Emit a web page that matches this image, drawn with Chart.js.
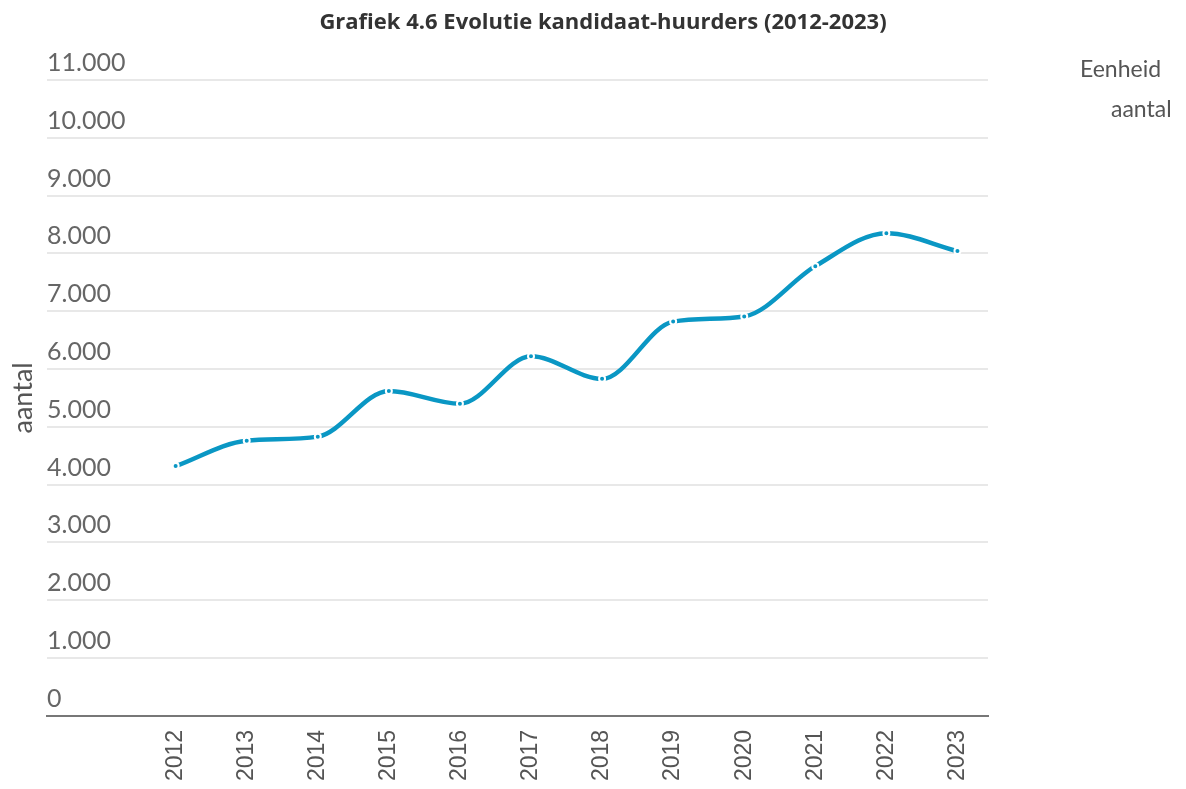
<!DOCTYPE html>
<html lang="nl">
<head>
<meta charset="utf-8">
<title>Evolutie kandidaat-huurders</title>
<script src="https://cdn.jsdelivr.net/npm/chart.js@4/dist/chart.umd.min.js"></script>
<style>
  html, body { margin: 0; padding: 0; background: #ffffff; }
  #wrap { width: 1186px; height: 789px; }
</style>
</head>
<body>
<div id="wrap"><canvas id="chart" width="1186" height="789"></canvas></div>
<script>
// Jaren en aantal kandidaat-huurders
const years = [2012, 2013, 2014, 2015, 2016, 2017, 2018, 2019, 2020, 2021, 2022, 2023];
const candidates = [4320, 4760, 4830, 5620, 5400, 6220, 5830, 6820, 6910, 7780, 8350, 8040];

const chartTitle = 'Grafiek 4.6 Evolutie kandidaat-huurders (2012-2023)';
const yAxisTitle = 'aantal';
const unitLabel = 'Eenheid';
const unitValue = 'aantal';

const lineColor = '#0a97c4';
const nlFormat = new Intl.NumberFormat('nl-BE', { maximumFractionDigits: 0 });

// Titel gecentreerd over het hele canvas, eenheid-aanduiding rechtsboven
const headerNotes = {
  id: 'headerNotes',
  afterDraw(chart) {
    const ctx = chart.ctx;
    ctx.save();
    ctx.textBaseline = 'middle';
    ctx.font = 'bold 22px "Open Sans", Lato, sans-serif';
    ctx.fillStyle = '#333333';
    ctx.textAlign = 'center';
    ctx.fillText(chartTitle, 603, 23);
    ctx.font = '23px Lato, "Open Sans", sans-serif';
    ctx.fillStyle = '#555555';
    ctx.textAlign = 'left';
    ctx.fillText(unitLabel, 1080, 70);
    ctx.fillText(unitValue, 1111, 110);
    ctx.restore();
  }
};

new Chart(document.getElementById('chart'), {
  type: 'line',
  data: {
    datasets: [{
      label: yAxisTitle,
      data: years.map((y, i) => ({ x: y, y: candidates[i] })),
      borderColor: lineColor,
      borderWidth: 4.5,
      cubicInterpolationMode: 'monotone',
      fill: false,
      pointRadius: 3,
      pointBorderWidth: 2,
      pointBorderColor: '#ffffff',
      pointBackgroundColor: lineColor
    }]
  },
  plugins: [headerNotes],
  options: {
    responsive: false,
    animation: false,
    layout: { padding: { left: 4, right: 198, top: 80, bottom: -6 } },
    plugins: {
      legend: { display: false },
      tooltip: { enabled: false },
      title: { display: false }
    },
    scales: {
      x: {
        type: 'linear',
        min: 2010.19,
        max: 2023.43,
        afterBuildTicks(scale) {
          scale.ticks = years.map(v => ({ value: v }));
        },
        grid: { display: false, drawTicks: false },
        border: { display: true, color: '#777777', width: 2 },
        ticks: {
          autoSkip: false,
          minRotation: 90,
          maxRotation: 90,
          padding: 14,
          color: '#555555',
          font: { family: '"Liberation Sans", Arial, sans-serif', size: 23 },
          callback: v => String(v)
        }
      },
      y: {
        min: 0,
        max: 11000,
        ticks: {
          stepSize: 1000,
          mirror: true,
          padding: 0,
          labelOffset: -17,
          color: '#666666',
          font: { family: 'Lato, "Open Sans", sans-serif', size: 25 },
          callback: v => nlFormat.format(v)
        },
        grid: { color: '#e8e8e8', lineWidth: 2, drawTicks: false },
        border: { display: false },
        title: {
          display: true,
          text: yAxisTitle,
          color: '#555555',
          font: { family: 'Lato, "Open Sans", sans-serif', size: 27 },
          padding: { top: 3, bottom: 7.6 }
        }
      }
    }
  }
});
</script>
</body>
</html>
